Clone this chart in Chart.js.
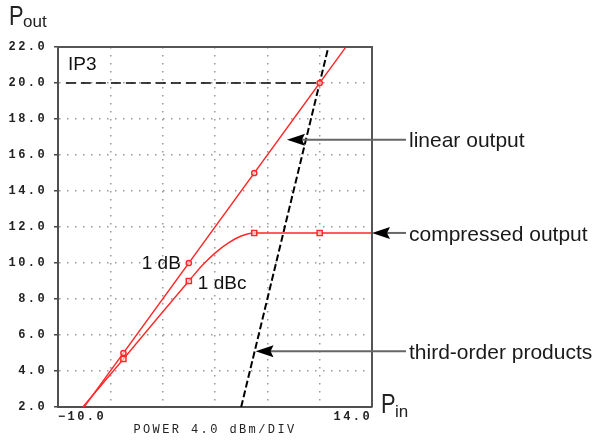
<!DOCTYPE html>
<html>
<head>
<meta charset="utf-8">
<script src="https://cdn.jsdelivr.net/npm/chart.js@4"></script>
<style>
  html, body { margin: 0; padding: 0; background: #fff; }
</style>
</head>
<body>
<canvas id="canvas" width="596" height="441"></canvas>
<script>
// values (Pin in dBm, Pout in dBm)
const linearIn = [-8, -5, 0, 5, 10, 12];
const linearOut = [2, 5, 10, 15, 20, 22];
const compIn = [-8.1, -5, -2.5, 0, 1, 2, 3, 4, 5, 10, 14];
const compOut = [2.0, 4.67, 6.85, 9.0, 9.85, 10.55, 11.1, 11.5, 11.67, 11.67, 11.67];
const thirdIn = [4, 10.667];
const thirdOut = [2, 22];
const ip3In = [-9.4, 10];
const ip3Out = [20, 20];
const markerIn = [-5, 0, 5, 10];
const xTickLabels = ['\u221210.0', '14.0'];
const noteText = ['linear output', 'compressed output', 'third-order products'];
const noteIn = [7.5, 14, 5.1];
const noteOut = [16.85, 11.67, 5.1];

const RED = 'rgb(255,40,40)';
const tickFont = { family: '"Liberation Mono", "DejaVu Sans Mono", monospace', size: 12, weight: 'bold' };

function pts(xs, ys) {
    return xs.map((x, i) => ({ x: x, y: ys[i] }));
}

function markRadius(r) {
    return (ctx) => {
        const p = ctx.raw;
        return p && markerIn.indexOf(p.x) >= 0 ? r : 0;
    };
}

const decor = {
    id: 'decor',
    beforeDraw(chart) {
        chart.ctx.letterSpacing = '2.4px';
    },
    afterDraw(chart) {
        const ctx = chart.ctx, a = chart.chartArea;
        const xs = chart.scales.x, ys = chart.scales.y;
        ctx.save();
        ctx.letterSpacing = '0px';

        // frame top and right
        ctx.strokeStyle = '#555';
        ctx.lineWidth = 2;
        ctx.beginPath();
        ctx.moveTo(a.left, a.top);
        ctx.lineTo(a.right, a.top);
        ctx.lineTo(a.right, a.bottom);
        ctx.stroke();

        // axis names
        ctx.fillStyle = '#222';
        ctx.textBaseline = 'alphabetic';
        ctx.textAlign = 'left';
        ctx.save();
        ctx.translate(9, 25);
        ctx.scale(0.78, 1);
        ctx.font = '28px "Liberation Sans", Arial, sans-serif';
        ctx.fillText('P', 0, 0);
        ctx.restore();
        ctx.font = '17px "Liberation Sans", Arial, sans-serif';
        ctx.fillText('out', 23, 27);
        ctx.save();
        ctx.translate(381, 413);
        ctx.scale(0.78, 1);
        ctx.font = '28px "Liberation Sans", Arial, sans-serif';
        ctx.fillText('P', 0, 0);
        ctx.restore();
        ctx.font = '17px "Liberation Sans", Arial, sans-serif';
        ctx.fillText('in', 395, 417);

        // IP3 and 1 dB labels
        ctx.fillStyle = '#111';
        ctx.textBaseline = 'middle';
        ctx.font = '19px "Liberation Sans", Arial, sans-serif';
        ctx.fillText('IP3', a.left + 10, a.top + 18);
        const i0 = linearIn.indexOf(0), c0 = compIn.indexOf(0);
        ctx.textAlign = 'right';
        ctx.fillText('1 dB', xs.getPixelForValue(linearIn[i0]) - 8, ys.getPixelForValue(linearOut[i0]) + 1);
        ctx.textAlign = 'left';
        ctx.fillText('1 dBc', xs.getPixelForValue(compIn[c0]) + 9, ys.getPixelForValue(compOut[c0]) + 3);

        // annotation arrows
        ctx.font = '21px "Liberation Sans", Arial, sans-serif';
        noteText.forEach((t, i) => {
            const tx = xs.getPixelForValue(noteIn[i]);
            const ty = ys.getPixelForValue(noteOut[i]);
            ctx.strokeStyle = '#666';
            ctx.lineWidth = 2;
            ctx.beginPath();
            ctx.moveTo(tx + 12, ty);
            ctx.lineTo(406, ty);
            ctx.stroke();
            ctx.fillStyle = '#000';
            ctx.beginPath();
            ctx.moveTo(tx, ty);
            ctx.lineTo(tx + 18, ty - 6);
            ctx.lineTo(tx + 15, ty);
            ctx.lineTo(tx + 18, ty + 6);
            ctx.closePath();
            ctx.fill();
            ctx.fillStyle = '#1a1a1a';
            ctx.fillText(t, 409, ty + 2);
        });
        ctx.restore();
    }
};

const config = {
    type: 'scatter',
    data: {
        datasets: [{
            label: 'linear',
            data: pts(linearIn, linearOut),
            showLine: true,
            borderColor: RED,
            borderWidth: 1.3,
            pointStyle: 'circle',
            pointRadius: markRadius(2.6),
            pointBorderColor: RED,
            pointBackgroundColor: 'rgba(255,255,255,0.6)',
            pointBorderWidth: 1.5
        }, {
            label: 'compressed',
            data: pts(compIn, compOut),
            showLine: true,
            cubicInterpolationMode: 'monotone',
            borderColor: RED,
            borderWidth: 1.4,
            pointStyle: 'rect',
            pointRadius: markRadius(3.6),
            pointBorderColor: RED,
            pointBackgroundColor: 'rgba(255,255,255,0.6)',
            pointBorderWidth: 1.5
        }, {
            label: 'third',
            data: pts(thirdIn, thirdOut),
            showLine: true,
            borderColor: '#000',
            borderWidth: 2,
            borderDash: [7, 3],
            pointRadius: 0
        }, {
            label: 'ip3',
            data: pts(ip3In, ip3Out),
            showLine: true,
            borderColor: '#000',
            borderWidth: 1.5,
            borderDash: [10, 5],
            pointRadius: 0
        }]
    },
    options: {
        responsive: false,
        devicePixelRatio: 1,
        animation: false,
        events: [],
        layout: { padding: { left: 0, top: 47, right: 224, bottom: 0 } },
        plugins: {
            legend: { display: false },
            tooltip: { enabled: false }
        },
        scales: {
            x: {
                type: 'linear',
                min: -10,
                max: 14,
                afterFit: (s) => { s.height = 34; },
                ticks: {
                    stepSize: 4,
                    autoSkip: false,
                    maxRotation: 0,
                    align: 'inner',
                    padding: 3,
                    color: '#222',
                    font: tickFont,
                    callback: (v) => v === -10 ? xTickLabels[0] : (v === 14 ? xTickLabels[1] : '')
                },
                grid: { color: '#999', lineWidth: 1.5, drawTicks: false },
                border: { display: true, color: '#505050', width: 2, dash: [1.5, 6.5] },
                title: {
                    display: true,
                    text: 'POWER 4.0 dBm/DIV',
                    color: '#222',
                    padding: { top: 0, bottom: 4 },
                    font: { family: '"Liberation Mono", "DejaVu Sans Mono", monospace', size: 12 }
                }
            },
            y: {
                type: 'linear',
                min: 2,
                max: 22,
                afterFit: (s) => { s.width = 58; },
                ticks: {
                    stepSize: 2,
                    padding: 7,
                    color: '#222',
                    font: tickFont,
                    callback: (v) => v.toFixed(1)
                },
                grid: { color: '#999', lineWidth: 1.5, tickLength: 4, tickColor: '#444', tickWidth: 1.5 },
                border: { display: true, color: '#505050', width: 2, dash: [1.5, 6.5] }
            }
        }
    },
    plugins: [decor]
};

var ctx = document.getElementById('canvas').getContext('2d');
window.myLine = new Chart(ctx, config);
</script>
</body>
</html>
